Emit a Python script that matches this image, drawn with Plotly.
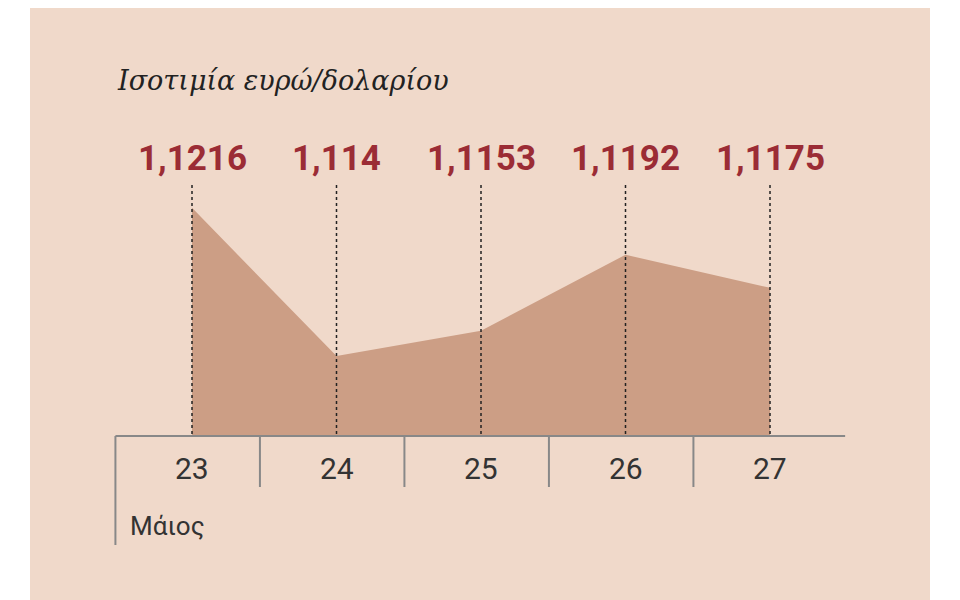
import plotly.graph_objects as go

days = ["23", "24", "25", "26", "27"]
rates = [1.1216, 1.114, 1.1153, 1.1192, 1.1175]
labels = ["1,1216", "1,114", "1,1153", "1,1192", "1,1175"]
month = "Μάιος"
title = "Ισοτιμία ευρώ/δολαρίου"

W, H = 960, 600
OFF = 8                 # page body margin offset
BASE = 1.1099           # value at the x-axis line
PPU = 19500             # pixels per unit of rate
BASE_PX = 436 - OFF

def py(p):
    # pixel row (screen) -> data y
    return BASE + (BASE_PX - (p - OFF)) / PPU

x0px = 192 - OFF
xs = list(range(len(days)))
fig = go.Figure()
fig.add_trace(go.Scatter(x=xs, y=[BASE] * len(xs), mode="lines",
                         line=dict(width=0), hoverinfo="skip"))
fig.add_trace(go.Scatter(x=xs, y=rates, mode="lines", fill="tonexty",
                         fillcolor="#CC9E85", line=dict(width=0, color="#CC9E85")))

shapes = [dict(type="rect", xref="paper", yref="paper", x0=(30 - OFF) / W,
               x1=(930 - OFF) / W, y0=-0.1, y1=1.1, fillcolor="#F0D9CA",
               line=dict(width=0), layer="below")]
for i, v in enumerate(rates):
    shapes.append(dict(type="line", x0=i, x1=i, y0=py(185), y1=BASE,
                       line=dict(color="#222", width=1.5, dash="3px,3px")))
shapes.append(dict(type="line", x0=-0.53, x1=4.52, y0=BASE, y1=BASE,
                   line=dict(color="#888", width=2)))
for i in range(len(days)):
    shapes.append(dict(type="line", x0=i - 0.53, x1=i - 0.53, y0=BASE,
                       y1=py(545 if i == 0 else 487), line=dict(color="#888", width=2)))

ann = [dict(text=f"<i>{title}</i>", xref="paper", yref="paper", x=(115 - OFF) / W,
            y=1 - (80 - OFF) / H, xanchor="left", yanchor="middle", showarrow=False,
            font=dict(size=27, color="#222", family="DejaVu Serif"))]
for i, t in enumerate(labels):
    ann.append(dict(text=f"<b>{t}</b>", x=i, y=py(158), showarrow=False,
                    font=dict(size=35, color="#9B2C35",
                              family="Liberation Sans Narrow, Roboto")))
    ann.append(dict(text=days[i], x=i, y=py(468), showarrow=False,
                    font=dict(size=30, color="#333", family="Roboto")))
ann.append(dict(text=month, xref="paper", x=(128 - OFF) / W, y=py(526), xanchor="left",
                showarrow=False, font=dict(size=26, color="#333", family="Roboto")))

fig.update_layout(
    width=W, height=H, margin=dict(l=0, r=0, t=0, b=0), showlegend=False,
    paper_bgcolor="white", plot_bgcolor="rgba(0,0,0,0)",
    xaxis=dict(range=[-x0px / 144.5, (W - x0px) / 144.5], visible=False),
    yaxis=dict(range=[py(H + OFF), py(OFF)], visible=False),
    shapes=shapes, annotations=ann,
)
fig.write_html("out.html")
